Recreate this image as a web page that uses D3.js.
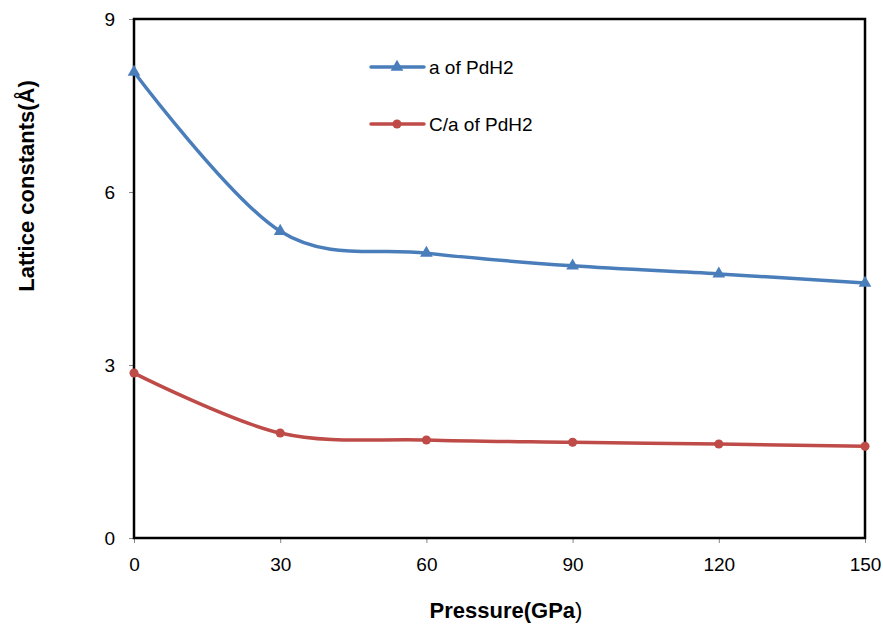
<!DOCTYPE html>
<html>
<head>
<meta charset="utf-8">
<script src="https://cdn.jsdelivr.net/npm/d3@7"></script>
<style>
  body { margin: 0; background: #fff; }
  text { font-family: "Liberation Sans", Arial, sans-serif; }
</style>
</head>
<body>
<div id="chart"></div>
<script>
// data
var pressure = [0, 30, 60, 90, 120, 150];
var aPdH2 = [8.08, 5.32, 4.94, 4.72, 4.58, 4.42];
var caPdH2 = [2.86, 1.82, 1.70, 1.66, 1.63, 1.59];
var xTicks = [0, 30, 60, 90, 120, 150];
var yTicks = [0, 3, 6, 9];

var svg = d3.select("#chart").append("svg")
  .attr("width", 883).attr("height", 624);

var pLeft = 134, pRight = 865, pTop = 19, pBottom = 538;

var x = d3.scaleLinear().domain([0, 150]).range([pLeft, pRight]);
var y = d3.scaleLinear().domain([0, 9]).range([pBottom, pTop]);

// axes
var xAxis = svg.append("g")
  .attr("transform", "translate(0," + pBottom + ")")
  .call(d3.axisBottom(x).tickValues(xTicks).tickSize(5).tickPadding(15));
var yAxis = svg.append("g")
  .attr("transform", "translate(" + pLeft + ",0)")
  .call(d3.axisLeft(y).tickValues(yTicks).tickSize(5).tickPadding(14));

[xAxis, yAxis].forEach(function (g) {
  g.select(".domain").remove();
  g.selectAll(".tick line").attr("stroke", "#868686").attr("stroke-width", 1);
  g.selectAll("text").style("font-size", "19px").attr("fill", "#000")
    .style("font-family", '"Liberation Sans", Arial, sans-serif');
});

// frame
svg.append("rect")
  .attr("x", pLeft).attr("y", pTop)
  .attr("width", pRight - pLeft).attr("height", pBottom - pTop)
  .attr("fill", "none").attr("stroke", "#000").attr("stroke-width", 2.5);

var line = d3.line()
  .x(function (d) { return x(d[0]); })
  .y(function (d) { return y(d[1]); })
  .curve(d3.curveCardinal.tension(0));

var blue = "#4a7ebb", red = "#be4b48";

function series(vals, color, marker) {
  var pts = pressure.map(function (p, i) { return [p, vals[i]]; });
  svg.append("path").datum(pts)
    .attr("d", line).attr("fill", "none")
    .attr("stroke", color).attr("stroke-width", 3.5);
  svg.selectAll(null).data(pts).enter().append("path")
    .attr("transform", function (d) { return "translate(" + x(d[0]) + "," + y(d[1]) + ")"; })
    .attr("d", d3.symbol().type(marker).size(marker === d3.symbolTriangle ? 70 : 65))
    .attr("fill", color);
}
series(aPdH2, blue, d3.symbolTriangle);
series(caPdH2, red, d3.symbolCircle);

// legend
var legend = [
  { name: "a of PdH2", color: blue, marker: d3.symbolTriangle, y: 67 },
  { name: "C/a of PdH2", color: red, marker: d3.symbolCircle, y: 124 }
];
legend.forEach(function (l) {
  svg.append("line")
    .attr("x1", 371).attr("x2", 424).attr("y1", l.y).attr("y2", l.y)
    .attr("stroke", l.color).attr("stroke-width", 3.5).attr("stroke-linecap", "round");
  svg.append("path")
    .attr("transform", "translate(397," + l.y + ")")
    .attr("d", d3.symbol().type(l.marker).size(l.marker === d3.symbolTriangle ? 70 : 65))
    .attr("fill", l.color);
  svg.append("text")
    .attr("x", 429).attr("y", l.y).attr("dy", "0.35em")
    .style("font-size", "19px")
    .text(l.name);
});

// axis titles
svg.append("text")
  .attr("transform", "translate(34,186) rotate(-90)")
  .attr("text-anchor", "middle")
  .style("font-size", "22px").style("font-weight", "bold")
  .text("Lattice constants(Å)");

var xt = svg.append("text")
  .attr("x", 506).attr("y", 618)
  .attr("text-anchor", "middle")
  .style("font-size", "22px").style("font-weight", "bold");
xt.append("tspan").text("Pressure(GPa");
xt.append("tspan").style("font-weight", "normal").text(")");
</script>
</body>
</html>
